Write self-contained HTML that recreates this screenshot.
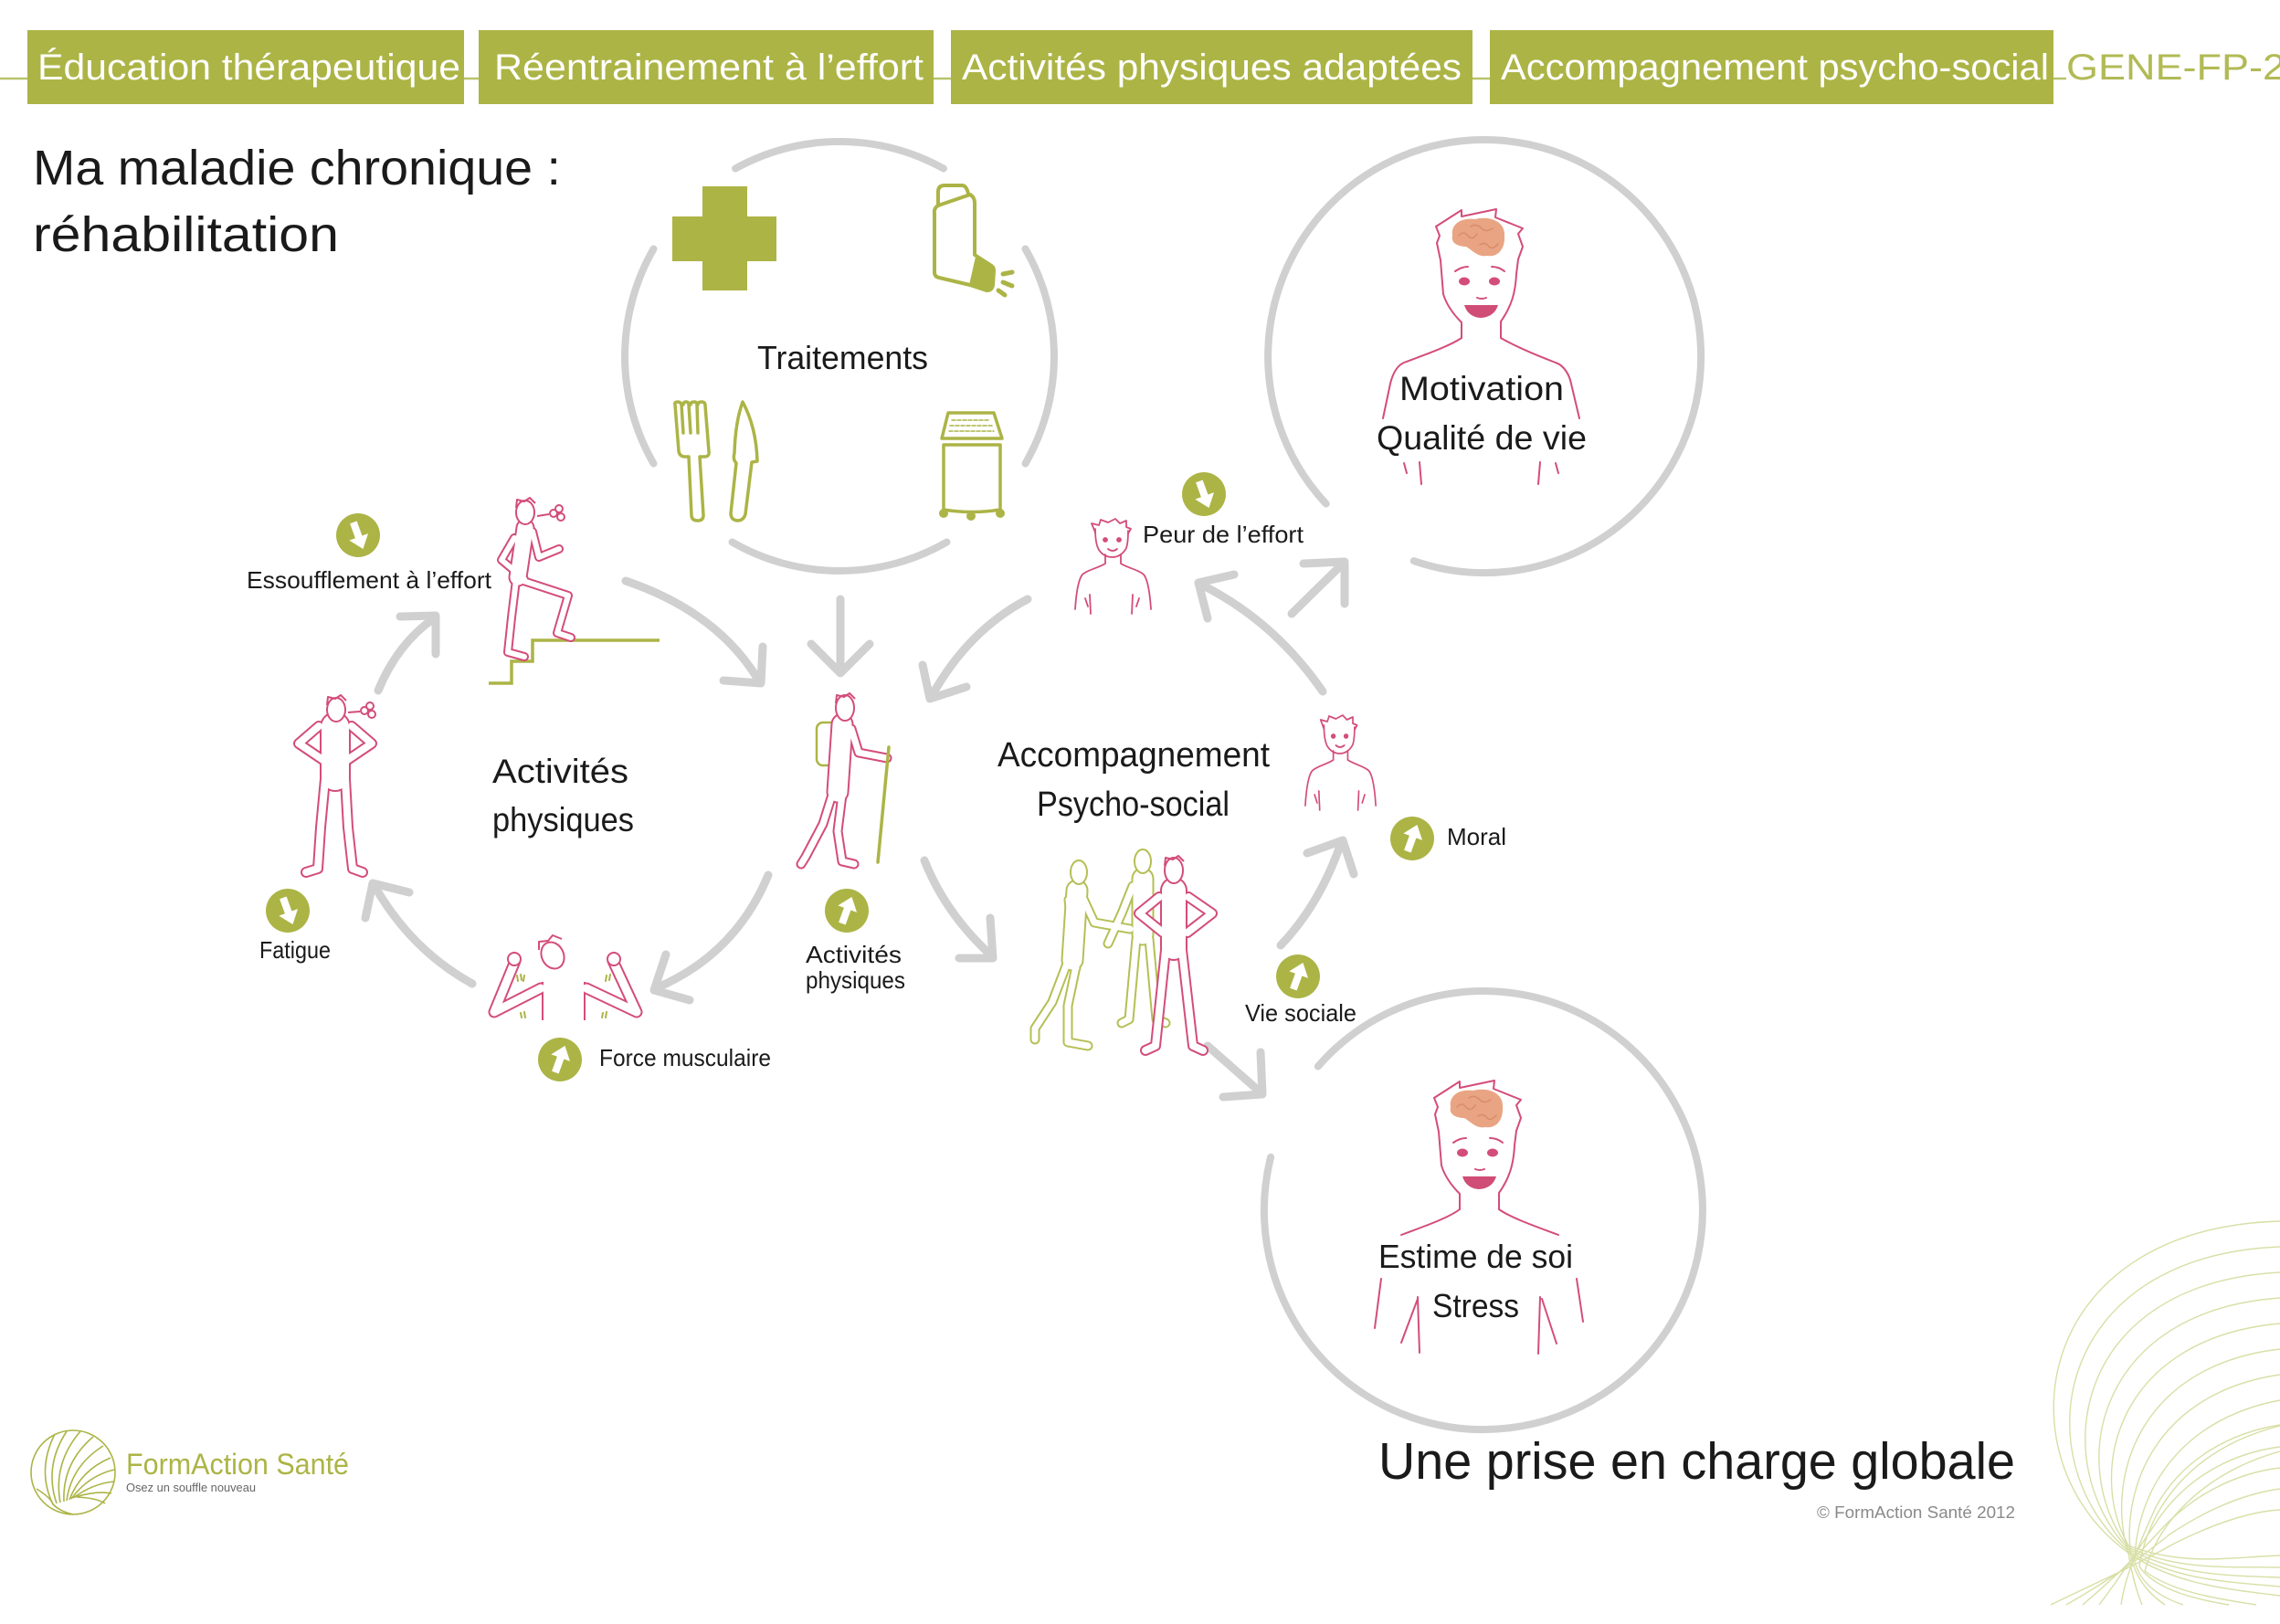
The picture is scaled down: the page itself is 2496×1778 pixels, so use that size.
<!DOCTYPE html>
<html><head><meta charset="utf-8"><style>
html,body{margin:0;padding:0;background:#fff;}
svg{display:block;}
text{font-family:"Liberation Sans",sans-serif;}
</style></head><body>
<svg width="2496" height="1778" viewBox="0 0 2496 1778" xmlns="http://www.w3.org/2000/svg" xmlns:xlink="http://www.w3.org/1999/xlink">
<defs>
<g id="dn"><circle r="24" fill="#acb446"/><polygon points="-4,-15 4,-15 4,2 11,2 0,16 -11,2 -4,2" fill="#fff" transform="rotate(-20)"/></g>
<g id="up"><circle r="24" fill="#acb446"/><polygon points="-4,15 4,15 4,-2 11,-2 0,-16 -11,-2 -4,-2" fill="#fff" transform="rotate(20)"/></g>
<g id="bust" fill="none" stroke="#d34d7a" stroke-width="1.8" stroke-linecap="round" stroke-linejoin="round">
<path d="M23,16 L19,6 L27,8 L29,2 L37,5 L45,1 L50,6 L57,3 L57,10 L62,12 L59,17"/>
<path d="M23,12 C23,22 24,30 27,35 C31,41 37,43 42,43 C48,43 54,39 57,33 C59,27 59,20 59,14"/>
<circle cx="34" cy="24" r="2" fill="#d34d7a"/><circle cx="49" cy="24" r="2" fill="#d34d7a"/>
<path d="M37,34 Q42,38 47,34"/>
<path d="M34,40 L34,50 C26,55 14,57 9,62 C4,68 2,85 1,100"/>
<path d="M51,40 L51,50 C59,55 71,57 76,62 C81,68 83,85 84,100"/>
<path d="M17,84 L18,105 M64,84 L63,105 M12,88 L15,97 M71,88 L68,97"/>
</g>
<g id="bighead" fill="none" stroke="#d34d7a" stroke-width="2" stroke-linejoin="round" stroke-linecap="round">
<path d="M1590,258 C1588,245 1600,238 1615,240 C1630,236 1648,242 1647,258 C1648,272 1640,282 1628,280 C1618,282 1612,274 1605,270 C1596,270 1588,266 1590,258 Z" fill="#e9a583" stroke="none"/>
<path d="M1597,258 q5,-6 10,0 q5,6 10,-2 M1610,248 q6,-4 12,2 q4,5 12,0 M1620,268 q6,-4 10,2 q4,4 10,-3" stroke="#d98c6a" stroke-width="1.5"/>
<path d="M1572,248 L1600,230 L1600,237 L1638,229 L1637,238 L1667,250 L1662,256 L1667,270 L1662,284 L1660,300 C1659,320 1655,335 1643,352 L1643,370"/>
<path d="M1572,248 L1576,258 L1573,266 L1577,285 L1580,322 C1584,335 1592,345 1600,353 L1600,370"/>
<path d="M1593,297 Q1600,292 1607,292 M1633,292 Q1641,292 1647,297"/>
<ellipse cx="1603" cy="308" rx="6" ry="4.5" fill="#d34d7a" stroke="none"/>
<ellipse cx="1636" cy="308" rx="6" ry="4.5" fill="#d34d7a" stroke="none"/>
<path d="M1617,326 Q1622,328 1627,326"/>
<path d="M1603,334 L1640,334 Q1636,347 1621,348 Q1607,347 1603,334 Z" fill="#cf4d76" stroke="none"/>
</g>
</defs>

<!-- header -->
<line x1="0" y1="86" x2="2262" y2="86" stroke="#b8c46c" stroke-width="2.5"/>
<rect x="30" y="33" width="478" height="81" fill="#acb446"/>
<rect x="524" y="33" width="498" height="81" fill="#acb446"/>
<rect x="1041" y="33" width="571" height="81" fill="#acb446"/>
<rect x="1631" y="33" width="617" height="81" fill="#acb446"/>
<g fill="#fff" font-size="40">
<text x="41" y="87" textLength="463" lengthAdjust="spacingAndGlyphs">Éducation thérapeutique</text>
<text x="541" y="87" textLength="470" lengthAdjust="spacingAndGlyphs">Réentrainement à l’effort</text>
<text x="1053" y="87" textLength="547" lengthAdjust="spacingAndGlyphs">Activités physiques adaptées</text>
<text x="1643" y="87" textLength="600" lengthAdjust="spacingAndGlyphs">Accompagnement psycho-social</text>
</g>
<text x="2262" y="87" font-size="40" fill="#b2ba55" textLength="240" lengthAdjust="spacingAndGlyphs" style="font-weight:normal">GENE-FP-2</text>

<!-- title -->
<g fill="#1a1a1a" font-size="54">
<text x="36" y="202" textLength="578" lengthAdjust="spacingAndGlyphs">Ma maladie chronique :</text>
<text x="36" y="275" textLength="335" lengthAdjust="spacingAndGlyphs">réhabilitation</text>
</g>

<!-- gray circles -->
<g fill="none" stroke="#d0d0d0" stroke-width="8" stroke-linecap="round">
<path d="M805.1,184.5 A235,235 0 0 1 1032.9,184.5"/>
<path d="M1122.5,272.5 A235,235 0 0 1 1122.5,507.5"/>
<path d="M1036.5,593.5 A235,235 0 0 1 801.5,593.5"/>
<path d="M715.5,507.5 A235,235 0 0 1 715.5,272.5"/>
<path d="M1451.7,551.6 A237,237 0 1 1 1547.8,614.1"/>
<path d="M1442.9,1167.5 A240,240 0 1 1 1391.1,1266.9"/>
</g>

<!-- gray arrows -->
<g fill="none" stroke="#d0d0d0" stroke-width="9" stroke-linecap="round" stroke-linejoin="round">
<path d="M685,636 Q785,670 830,744"/><path d="M792,745 L833,748 L835,708"/>
<path d="M920,656 L920,736"/><path d="M888,705 L920,737 L952,705"/>
<path d="M1125,656 Q1060,690 1020,762"/><path d="M1010,728 L1018,765 L1058,752"/>
<path d="M841,958 Q805,1045 718,1082"/><path d="M729,1045 L716,1084 L755,1095"/>
<path d="M517,1077 Q450,1040 410,970"/><path d="M400,1005 L408,967 L448,977"/>
<path d="M414,756 Q435,705 475,677"/><path d="M438,675 L477,674 L477,716"/>
<path d="M1012,942 Q1035,1000 1085,1046"/><path d="M1084,1005 L1087,1049 L1050,1049"/>
<path d="M1322,1145 L1380,1196"/><path d="M1339,1201 L1382,1198 L1380,1152"/>
<path d="M1402,1035 Q1445,990 1468,923"/><path d="M1431,934 L1470,920 L1482,957"/>
<path d="M1448,757 Q1395,680 1315,640"/><path d="M1351,629 L1312,638 L1322,677"/>
<path d="M1414,672 L1470,617"/><path d="M1427,617 L1472,615 L1472,661"/>
</g>

<!-- Traitements icons -->
<rect x="769" y="204" width="49" height="114" fill="#acb446"/>
<rect x="736" y="237" width="114" height="49" fill="#acb446"/>
<g fill="none" stroke="#acb446" stroke-width="4" stroke-linejoin="round" stroke-linecap="round">
<path d="M1027,225 L1027,210 Q1027,203 1034,203 L1053,203 Q1058,203 1060,212"/>
<path d="M1027,225 Q1022,228 1023,234 L1023,298 Q1023,303 1028,304 L1062,312 L1080,318 Q1086,318 1087,312 L1088,296 Q1088,292 1084,290 L1067,279 L1067,222 Q1067,216 1062,213 L1027,225"/>
<path d="M1098,300 L1108,298 M1098,309 L1108,313 M1093,318 L1100,323" stroke-width="5"/>
</g>
<polygon points="1068,281 1087,291 1085,315 1078,318 1061,312" fill="#acb446"/>
<g fill="none" stroke="#acb446" stroke-width="3.5" stroke-linejoin="round" stroke-linecap="round">
<path d="M739,443 Q738,440 742,440 Q745,440 746,443 L748,474 M748,443 Q748,440 751,440 Q754,440 754,443 L756,474 M756,443 Q756,440 760,440 Q763,440 763,443 L764,474 M764,443 Q764,440 768,440 Q772,440 772,444 L776,494 Q777,500 771,500 L766,500 L770,564 Q770,570 764,570 Q757,570 757,564 L754,500 L750,500 Q744,500 743,494 L739,443"/>
<path d="M813,440 Q828,468 829,505 L823,506 L816,563 Q814,570 807,570 Q800,569 800,562 L806,507 Q802,503 804,496 Q805,462 813,440 Z"/>
<path d="M1038,452 L1088,452 L1097,480 L1031,480 Z"/>
<path d="M1033,487 L1095,487 L1095,558 Q1064,563 1033,558 Z"/>
<path d="M1042,460 L1084,460 M1040,466 L1086,466 M1039,472 L1088,472" stroke-width="1.5" stroke-dasharray="4 2"/>
</g>
<g fill="#acb446"><circle cx="1033" cy="562" r="5"/><circle cx="1063" cy="565" r="5"/><circle cx="1095" cy="562" r="5"/></g>

<!-- stairs -->
<path d="M535,748 L560,748 L560,724 L583,724 L583,701 L722,701" fill="none" stroke="#acb446" stroke-width="3.5"/>

<!-- figures: outline via pink/white double strokes -->
<g fill="none" stroke-linecap="round" stroke-linejoin="round">
<!-- stair climber -->
<g stroke="#d34d7a"><path d="M575,578 L567,632" stroke-width="21"/><path d="M563,589 L549,613 L574,634 M583,582 L590,610 L612,601 M565,635 L560,676 L556,714 L574,719 M570,635 L622,652 L610,693 L625,698" stroke-width="10"/></g>
<g stroke="#fff"><path d="M575,578 L567,632" stroke-width="17"/><path d="M563,589 L549,613 L574,634 M583,582 L590,610 L612,601 M565,635 L560,676 L556,714 L574,719 M570,635 L622,652 L610,693 L625,698" stroke-width="6"/></g>
<!-- fatigue -->
<g stroke="#d34d7a"><path d="M367,796 L367,850" stroke-width="34"/><path d="M349,795 L327,814 L355,833 M385,795 L407,814 L379,833 M356,853 L351,906 L348,951 L335,955 M378,853 L381,906 L386,951 L397,955" stroke-width="12"/></g>
<g stroke="#fff"><path d="M367,796 L367,850" stroke-width="30"/><path d="M349,795 L327,814 L355,833 M385,795 L407,814 L379,833 M356,853 L351,906 L348,951 L335,955 M378,853 L381,906 L386,951 L397,955" stroke-width="8"/></g>
<!-- flexing -->
<g stroke="#d34d7a"><path d="M617,1075 L617,1125" stroke-width="48" stroke-linecap="butt"/><path d="M592,1082 L541,1108 L564,1052 M642,1082 L697,1108 L671,1052" stroke-width="13"/></g>
<g stroke="#fff"><path d="M617,1075 L617,1125" stroke-width="44" stroke-linecap="butt"/><path d="M592,1082 L541,1108 L564,1052 M642,1082 L697,1108 L671,1052" stroke-width="9"/></g>
<!-- hiker -->
<rect x="894" y="791" width="25" height="47" rx="7" stroke="#acb446" stroke-width="2.5"/>
<g stroke="#d34d7a"><path d="M922,793 L917,867" stroke-width="25"/><path d="M932,798 L940,824 L971,830 M911,870 L901,902 L882,938 L877,946 M922,870 L917,910 L922,943 L935,946" stroke-width="11"/></g>
<g stroke="#fff"><path d="M922,793 L917,867" stroke-width="21"/><path d="M932,798 L940,824 L971,830 M911,870 L901,902 L882,938 L877,946 M922,870 L917,910 L922,943 L935,946" stroke-width="7"/></g>
<line x1="973" y1="818" x2="961" y2="944" stroke="#acb446" stroke-width="3.5"/>
<!-- group: green ones -->
<g stroke="#b5bf55"><path d="M1179,975 L1174,1051 M1251,962 L1251,1023" stroke-width="25"/><path d="M1186,984 L1198,1010 L1237,1017 M1170,985 L1178,1060 M1168,1055 L1152,1097 L1133,1126 L1133,1138 M1178,1058 L1169,1101 L1169,1141 L1191,1145 M1240,970 L1228,1000 L1213,1033 M1244,1028 L1236,1116 L1228,1120 M1258,1028 L1266,1116 L1276,1120" stroke-width="11"/></g>
<g stroke="#fff"><path d="M1179,975 L1174,1051 M1251,962 L1251,1023" stroke-width="21"/><path d="M1186,984 L1198,1010 L1237,1017 M1170,985 L1178,1060 M1168,1055 L1152,1097 L1133,1126 L1133,1138 M1178,1058 L1169,1101 L1169,1141 L1191,1145 M1240,970 L1228,1000 L1213,1033 M1244,1028 L1236,1116 L1228,1120 M1258,1028 L1266,1116 L1276,1120" stroke-width="7"/></g>
<!-- group: pink -->
<g stroke="#d34d7a"><path d="M1285,975 L1285,1037" stroke-width="30"/><path d="M1269,982 L1247,1000 L1273,1021 M1301,982 L1327,1000 L1300,1021 M1276,1040 L1265,1145 L1254,1150 M1294,1040 L1306,1145 L1317,1150" stroke-width="12"/></g>
<g stroke="#fff"><path d="M1285,975 L1285,1037" stroke-width="26"/><path d="M1269,982 L1247,1000 L1273,1021 M1301,982 L1327,1000 L1300,1021 M1276,1040 L1265,1145 L1254,1150 M1294,1040 L1306,1145 L1317,1150" stroke-width="8"/></g>
</g>
<rect x="585" y="1117" width="70" height="12" fill="#fff"/>

<!-- heads of small figures -->
<g fill="#fff" stroke="#d34d7a" stroke-width="2" stroke-linejoin="round">
<ellipse cx="575" cy="561" rx="10" ry="13"/><path d="M565,556 L566,547 L574,549 L580,545 L586,551" fill="none"/>
<ellipse cx="368" cy="777" rx="10" ry="13"/><path d="M358,772 L359,763 L367,765 L373,761 L379,767" fill="none"/>
<ellipse cx="605" cy="1046" rx="12" ry="15" transform="rotate(-25 605 1046)"/><path d="M590,1040 L590,1031 L600,1030 L605,1024 L615,1028" fill="none"/>
<ellipse cx="925" cy="775" rx="10" ry="14"/><path d="M915,770 L916,761 L924,763 L930,759 L936,765" fill="none"/>
<ellipse cx="1285" cy="953" rx="10" ry="14"/><path d="M1275,948 L1276,939 L1284,941 L1290,937 L1296,943" fill="none"/>
</g>
<g fill="#fff" stroke="#b5bf55" stroke-width="2">
<ellipse cx="1181" cy="955" rx="9" ry="13"/>
<ellipse cx="1251" cy="943" rx="9" ry="13"/>
</g>
<g fill="#fff" stroke="#d34d7a" stroke-width="2">
<circle cx="563" cy="1050" r="7"/><circle cx="672" cy="1050" r="7"/>
<path d="M588,565 L601,563" fill="none"/><circle cx="606" cy="562" r="4"/><circle cx="612" cy="557" r="4"/><circle cx="614" cy="566" r="4"/>
<path d="M381,780 L394,779" fill="none"/><circle cx="399" cy="778" r="4"/><circle cx="405" cy="773" r="4"/><circle cx="407" cy="782" r="4"/>
</g>
<g stroke="#acb446" stroke-width="2" stroke-linecap="round">
<path d="M566,1068 L567,1074 M570,1067 L571,1073 M574,1068 L573,1074 M570,1109 L571,1114 M574,1108 L575,1114 M664,1068 L663,1074 M668,1067 L667,1073 M660,1109 L659,1114 M664,1108 L663,1114"/>
</g>

<!-- busts -->
<use xlink:href="#bust" href="#bust" transform="translate(1176,567)"/>
<use xlink:href="#bust" href="#bust" transform="translate(1428,782) scale(0.93,1)"/>

<!-- big heads -->
<use xlink:href="#bighead" href="#bighead"/>
<g fill="none" stroke="#d34d7a" stroke-width="2" stroke-linecap="round">
<path d="M1600,370 C1585,380 1555,390 1537,397 C1530,400 1525,408 1522,420 L1514,458"/>
<path d="M1643,370 C1660,380 1690,392 1703,397 C1712,400 1718,410 1720,420 L1729,458"/>
<path d="M1537,507 L1540,518 M1554,506 L1556,530 M1686,506 L1684,530 M1703,507 L1706,518"/>
</g>
<use xlink:href="#bighead" href="#bighead" transform="translate(-2,954)"/>
<g fill="none" stroke="#d34d7a" stroke-width="2" stroke-linecap="round">
<path d="M1598,1324 C1585,1334 1555,1344 1534,1352"/>
<path d="M1641,1324 C1655,1334 1685,1344 1706,1352"/>
<path d="M1512,1400 L1505,1454 M1552,1420 L1554,1481 M1552,1422 L1534,1470 M1726,1400 L1733,1447 M1686,1420 L1684,1482 M1688,1422 L1704,1471"/>
</g>

<!-- icons -->
<use xlink:href="#dn" href="#dn" x="392" y="586"/>
<use xlink:href="#dn" href="#dn" x="315" y="997"/>
<use xlink:href="#up" href="#up" x="613" y="1160"/>
<use xlink:href="#up" href="#up" x="927" y="997"/>
<use xlink:href="#dn" href="#dn" x="1318" y="541"/>
<use xlink:href="#up" href="#up" x="1546" y="918"/>
<use xlink:href="#up" href="#up" x="1421" y="1069"/>

<!-- labels -->
<g fill="#1a1a1a">
<text x="829" y="404" font-size="36" textLength="187" lengthAdjust="spacingAndGlyphs">Traitements</text>
<text x="270" y="644" font-size="26" textLength="268" lengthAdjust="spacingAndGlyphs">Essoufflement à l’effort</text>
<text x="539" y="857" font-size="37" textLength="149" lengthAdjust="spacingAndGlyphs">Activités</text>
<text x="539" y="910" font-size="37" textLength="155" lengthAdjust="spacingAndGlyphs">physiques</text>
<text x="284" y="1049" font-size="26" textLength="78" lengthAdjust="spacingAndGlyphs">Fatigue</text>
<text x="656" y="1167" font-size="26" textLength="188" lengthAdjust="spacingAndGlyphs">Force musculaire</text>
<text x="882" y="1054" font-size="26" textLength="105" lengthAdjust="spacingAndGlyphs">Activités</text>
<text x="882" y="1082" font-size="26" textLength="109" lengthAdjust="spacingAndGlyphs">physiques</text>
<text x="1251" y="594" font-size="26" textLength="176" lengthAdjust="spacingAndGlyphs">Peur de l’effort</text>
<text x="1092" y="839" font-size="38" textLength="298" lengthAdjust="spacingAndGlyphs">Accompagnement</text>
<text x="1135" y="893" font-size="38" textLength="211" lengthAdjust="spacingAndGlyphs">Psycho-social</text>
<text x="1584" y="925" font-size="26" textLength="65" lengthAdjust="spacingAndGlyphs">Moral</text>
<text x="1363" y="1118" font-size="26" textLength="122" lengthAdjust="spacingAndGlyphs">Vie sociale</text>
<text x="1532" y="438" font-size="37" textLength="180" lengthAdjust="spacingAndGlyphs">Motivation</text>
<text x="1507" y="492" font-size="37" textLength="230" lengthAdjust="spacingAndGlyphs">Qualité de vie</text>
<text x="1509" y="1388" font-size="36" textLength="213" lengthAdjust="spacingAndGlyphs">Estime de soi</text>
<text x="1568" y="1442" font-size="36" textLength="95" lengthAdjust="spacingAndGlyphs">Stress</text>
<text x="1509" y="1619" font-size="57" textLength="697" lengthAdjust="spacingAndGlyphs">Une prise en charge globale</text>
</g>
<text x="1989" y="1662" font-size="18" fill="#8a8a8a" textLength="217" lengthAdjust="spacingAndGlyphs">© FormAction Santé 2012</text>

<!-- logo -->
<g fill="none" stroke="#acb446" stroke-width="1.6">
<circle cx="80" cy="1612" r="46"/>
<path d="M58,1647 Q40,1610 60,1570 M62,1646 Q48,1605 73,1567 M66,1645 Q58,1602 88,1567 M70,1644 Q68,1602 102,1573 M73,1643 Q78,1605 113,1583 M76,1642 Q88,1610 121,1596 M78,1641 Q96,1616 125,1609 M80,1640 Q102,1624 125,1622 M82,1639 Q106,1632 122,1635 M84,1639 Q106,1640 115,1646"/>
<path d="M40,1630 Q56,1640 58,1647 M58,1647 Q66,1655 80,1658"/>
</g>
<text x="138" y="1614" font-size="32" fill="#acb446" textLength="244" lengthAdjust="spacingAndGlyphs">FormAction Santé</text>
<text x="138" y="1633" font-size="13" fill="#666" textLength="142" lengthAdjust="spacingAndGlyphs">Osez un souffle nouveau</text>

<!-- swirl -->
<g fill="none" stroke="#d8dfa6" stroke-width="1.4">
<path d="M2496,1337 C2220,1345 2190,1600 2330,1700 C2380,1735 2440,1740 2496,1747"/>
<path d="M2496,1365 C2245,1375 2215,1600 2330,1698 C2380,1730 2440,1732 2496,1737"/>
<path d="M2496,1393 C2270,1405 2240,1600 2330,1696 C2385,1725 2440,1725 2496,1727"/>
<path d="M2496,1421 C2295,1435 2262,1605 2330,1694 C2385,1720 2440,1715 2496,1716"/>
<path d="M2496,1449 C2318,1465 2284,1610 2330,1692 C2390,1715 2440,1705 2496,1703"/>
<path d="M2496,1477 C2340,1495 2305,1620 2330,1700 C2335,1730 2340,1745 2345,1757"/>
<path d="M2496,1505 C2360,1525 2322,1630 2333,1705 C2340,1735 2360,1750 2370,1757"/>
<path d="M2496,1533 C2380,1555 2338,1640 2337,1710 C2345,1740 2375,1752 2390,1757"/>
<path d="M2496,1561 C2400,1585 2352,1650 2342,1715 C2360,1742 2410,1752 2440,1757"/>
<path d="M2496,1589 C2420,1610 2365,1660 2348,1720 C2380,1745 2440,1752 2470,1757"/>
<path d="M2245,1757 C2290,1735 2330,1718 2380,1690 C2420,1670 2460,1655 2496,1653"/>
<path d="M2262,1757 C2300,1735 2330,1716 2375,1680 C2420,1650 2460,1635 2496,1630"/>
<path d="M2280,1757 C2305,1735 2330,1714 2370,1670 C2410,1630 2455,1612 2496,1607"/>
<path d="M2298,1757 C2315,1735 2330,1712 2365,1660 C2400,1612 2450,1590 2496,1584"/>
<path d="M2322,1757 C2325,1735 2332,1712 2360,1650 C2390,1595 2445,1568 2496,1560"/>
</g>
</svg>
</body></html>
